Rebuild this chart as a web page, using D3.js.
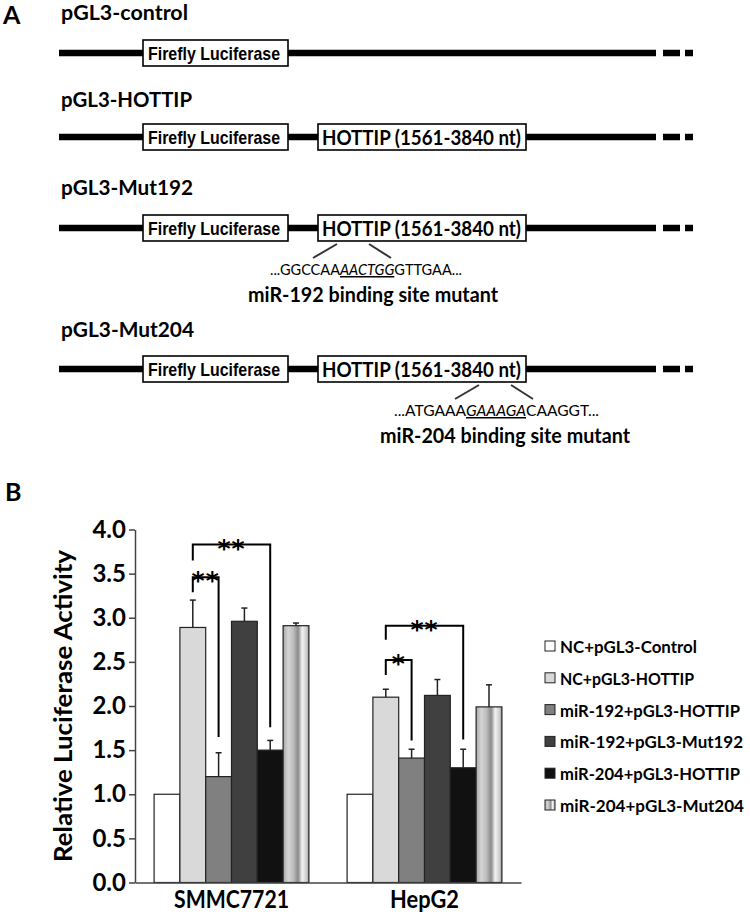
<!DOCTYPE html>
<html>
<head>
<meta charset="utf-8">
<script src="https://cdn.jsdelivr.net/npm/d3@7"></script>
<style>
  body { margin: 0; background: #fff; }
  text { font-family: Lato, "Open Sans", sans-serif; }
</style>
</head>
<body>
<div id="figure"></div>
<script>
// ---- data ----
let constructs = ["pGL3-control", "pGL3-HOTTIP", "pGL3-Mut192", "pGL3-Mut204"];
let hasInsert = [false, true, true, true];
let mutSeq = [null, null, ["...GGCCAA", "AACTGG", "GTTGAA..."], ["...ATGAAA", "GAAAGA", "CAAGGT..."]];
let mutLabel = [null, null, "miR-192 binding site mutant", "miR-204 binding site mutant"];

let groups = ["SMMC7721", "HepG2"];
let series = ["NC+pGL3-Control", "NC+pGL3-HOTTIP", "miR-192+pGL3-HOTTIP",
    "miR-192+pGL3-Mut192", "miR-204+pGL3-HOTTIP", "miR-204+pGL3-Mut204"];
let means = [
    [1.0, 2.89, 1.20, 2.96, 1.50, 2.91],
    [1.0, 2.10, 1.41, 2.12, 1.30, 1.99]
];
let errors = [
    [0, 0.31, 0.27, 0.15, 0.11, 0.03],
    [0, 0.09, 0.10, 0.18, 0.21, 0.25]
];
let yTicks = [0, 0.5, 1.0, 1.5, 2.0, 2.5, 3.0, 3.5, 4.0];
// significance brackets: group, from series, to series, top, left leg end, right leg end, label
let brackets = [
    {g: 0, a: 1, b: 2, top: 3.46, la: 3.29, lb: 1.65, label: "**"},
    {g: 0, a: 1, b: 4, top: 3.83, la: 3.65, lb: 1.76, label: "**"},
    {g: 1, a: 1, b: 2, top: 2.52, la: 2.35, lb: 1.61, label: "*"},
    {g: 1, a: 1, b: 4, top: 2.91, la: 2.75, lb: 1.62, label: "**"}
];

let fills = ["#ffffff", "#d9d9d9", "#808080", "#404040", "#111111", "url(#stripe)"];

let svg = d3.select("#figure")
    .append("svg")
    .attr("width", 750)
    .attr("height", 917);

function fit(t, w) {
    return t.attr("textLength", w).attr("lengthAdjust", "spacingAndGlyphs");
}

// gradient for the last series
let grad = svg.append("defs").append("linearGradient")
    .attr("id", "stripe")
    .attr("x1", "0%").attr("x2", "100%").attr("y1", "0%").attr("y2", "0%");
[[0, "#a8a8a8"], [0.2, "#d4d4d4"], [0.4, "#bdbdbd"], [0.58, "#8a8a8a"],
 [0.74, "#f2f2f2"], [0.9, "#cfcfcf"], [1, "#9a9a9a"]].forEach(function (s) {
    grad.append("stop").attr("offset", s[0]).attr("stop-color", s[1]);
});

// ---------------- panel A ----------------
svg.append("text").attr("x", 3).attr("y", 24)
    .style("font-size", "25px").style("font-weight", "bold").text("A");

let lineY = [53, 137, 228, 369];
let labelY = [20, 107, 195, 337];
let nameW = [127, 131, 132, 133];

constructs.forEach(function (name, i) {
    let y = lineY[i];
    fit(svg.append("text").attr("x", 61).attr("y", labelY[i])
        .style("font-size", "21px").style("font-weight", "bold").text(name), nameW[i]);

    let bb = svg.append("g").attr("stroke", "#000").attr("stroke-width", 6.5);
    bb.append("line").attr("x1", 59).attr("x2", 656).attr("y1", y).attr("y2", y);
    bb.append("line").attr("x1", 663).attr("x2", 680).attr("y1", y).attr("y2", y);
    bb.append("line").attr("x1", 685).attr("x2", 693).attr("y1", y).attr("y2", y);

    svg.append("rect").attr("x", 143).attr("y", y - 13).attr("width", 145).attr("height", 26)
        .attr("fill", "#fff").attr("stroke", "#000").attr("stroke-width", 1.6);
    fit(svg.append("text").attr("x", 148).attr("y", y + 7)
        .style("font-family", "'Liberation Sans Narrow', 'Liberation Sans', sans-serif")
        .style("font-size", "19px").style("font-weight", "bold").text("Firefly Luciferase"), 132);

    if (hasInsert[i]) {
        svg.append("rect").attr("x", 318).attr("y", y - 13).attr("width", 208).attr("height", 26)
            .attr("fill", "#fff").attr("stroke", "#000").attr("stroke-width", 1.6);
        fit(svg.append("text").attr("x", 322).attr("y", y + 8)
            .style("font-size", "21px").style("font-weight", "bold").text("HOTTIP (1561-3840 nt)"), 199);
    }

    if (mutSeq[i]) {
        let cx = i === 2 ? 352 : 494;
        let seqX = i === 2 ? 270 : 394;
        let seqW = i === 2 ? 192 : 205;
        let labX = i === 2 ? 248 : 380;
        let dl = svg.append("g").attr("stroke", "#333").attr("stroke-width", 2);
        dl.append("line").attr("x1", cx - 15).attr("y1", y + 16).attr("x2", cx - 39).attr("y2", y + 30);
        dl.append("line").attr("x1", cx + 17).attr("y1", y + 16).attr("x2", cx + 39).attr("y2", y + 30);

        let t = svg.append("text").attr("x", seqX).attr("y", y + 47).style("font-size", "15px");
        t.append("tspan").text(mutSeq[i][0]);
        t.append("tspan").style("font-style", "italic").style("text-decoration", "underline").text(mutSeq[i][1]);
        t.append("tspan").text(mutSeq[i][2]);
        fit(t, seqW);

        fit(svg.append("text").attr("x", labX).attr("y", y + 74)
            .style("font-size", "20px").style("font-weight", "bold").text(mutLabel[i]), 250);
    }
});

// ---------------- panel B ----------------
svg.append("text").attr("x", 5).attr("y", 501)
    .style("font-size", "25px").style("font-weight", "bold").text("B");

let x0 = d3.scaleBand().domain(groups).range([135, 521]);
let x1 = d3.scaleBand().domain(series).range([0, x0.bandwidth()]).paddingOuter(0.74);
let y = d3.scaleLinear().domain([0, 4]).range([882.5, 529.5]);

let chart = svg.append("g");

let yAxis = chart.append("g")
    .attr("transform", "translate(135,0)")
    .call(d3.axisLeft(y).tickValues(yTicks).tickFormat(d3.format(".1f")).tickSize(6).tickSizeOuter(0));
yAxis.select(".domain").attr("stroke", "#444").attr("stroke-width", 1.5);
yAxis.selectAll(".tick line").attr("stroke", "#444").attr("stroke-width", 1.5);
yAxis.selectAll(".tick text")
    .attr("x", -9)
    .style("font-family", "Lato, sans-serif")
    .style("font-size", "24px").style("font-weight", "bold").attr("fill", "#000");

fit(chart.append("text")
    .attr("transform", "translate(72,862) rotate(-90)")
    .style("font-size", "24px").style("font-weight", "bold")
    .text("Relative Luciferase Activity"), 312);

let grp = chart.selectAll(".grp")
    .data(groups)
    .enter()
    .append("g")
    .attr("transform", function (d) {
        return "translate(" + x0(d) + ",0)";
    });

grp.selectAll("rect")
    .data(function (d, gi) {
        return series.map(function (s, si) {
            return {s: s, si: si, v: means[gi][si], e: errors[gi][si]};
        });
    })
    .enter()
    .append("rect")
    .attr("x", function (d) { return x1(d.s); })
    .attr("y", function (d) { return y(d.v); })
    .attr("width", x1.bandwidth())
    .attr("height", function (d) { return y(0) - y(d.v); })
    .attr("fill", function (d) { return fills[d.si]; })
    .attr("stroke", "#222")
    .attr("stroke-width", 1.2);

// error bars (upper only)
let eb = grp.selectAll(".err")
    .data(function (d, gi) {
        return series.map(function (s, si) {
            return {s: s, v: means[gi][si], e: errors[gi][si]};
        }).filter(function (d) { return d.e > 0; });
    })
    .enter()
    .append("g")
    .attr("stroke", "#222")
    .attr("stroke-width", 1.5);
eb.append("line")
    .attr("x1", function (d) { return x1(d.s) + x1.bandwidth() / 2; })
    .attr("x2", function (d) { return x1(d.s) + x1.bandwidth() / 2; })
    .attr("y1", function (d) { return y(d.v); })
    .attr("y2", function (d) { return y(d.v + d.e); });
eb.append("line")
    .attr("x1", function (d) { return x1(d.s) + x1.bandwidth() / 2 - 3; })
    .attr("x2", function (d) { return x1(d.s) + x1.bandwidth() / 2 + 3; })
    .attr("y1", function (d) { return y(d.v + d.e); })
    .attr("y2", function (d) { return y(d.v + d.e); });

// x axis
let xAxis = chart.append("g")
    .attr("transform", "translate(0," + y(0) + ")")
    .call(d3.axisBottom(x0).tickSize(0));
xAxis.select(".domain").attr("stroke", "#444").attr("stroke-width", 1.5);
xAxis.selectAll(".tick text")
    .attr("y", 25)
    .attr("dy", null)
    .style("font-family", "Lato, sans-serif")
    .style("font-size", "24px").style("font-weight", "bold").attr("fill", "#000")
    .each(function (d) {
        d3.select(this).attr("textLength", d === "SMMC7721" ? 115 : 69).attr("lengthAdjust", "spacingAndGlyphs");
    });

// significance brackets
brackets.forEach(function (b) {
    let xa = x0(groups[b.g]) + x1(series[b.a]) + x1.bandwidth() / 2;
    let xb = x0(groups[b.g]) + x1(series[b.b]) + x1.bandwidth() / 2;
    chart.append("path")
        .attr("d", "M" + xa + "," + y(b.la) + "V" + y(b.top) + "H" + xb + "V" + y(b.lb))
        .attr("fill", "none")
        .attr("stroke", "#000")
        .attr("stroke-width", 2);
    chart.append("text")
        .attr("x", (xa + xb) / 2)
        .attr("y", y(b.top) + 12)
        .attr("text-anchor", "middle")
        .style("font-family", "'DejaVu Sans', sans-serif")
        .style("font-size", "25px").style("font-weight", "bold")
        .style("letter-spacing", "1px")
        .text(b.label);
});

// legend
let legend = svg.append("g");
series.forEach(function (s, i) {
    let ly = 646 + i * 31.8;
    legend.append("rect").attr("x", 545).attr("y", ly - 5).attr("width", 10).attr("height", 10)
        .attr("fill", fills[i]).attr("stroke", "#222").attr("stroke-width", 1);
    let w = [137, 134, 180, 183, 180, 184][i];
    fit(legend.append("text").attr("x", 560).attr("y", ly + 7)
        .style("font-size", "17px").style("font-weight", "bold").text(s), w);
});
</script>
</body>
</html>
